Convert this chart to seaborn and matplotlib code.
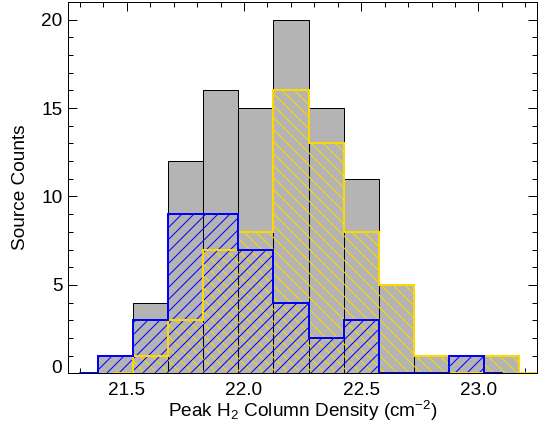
import numpy as np
import pandas as pd
import matplotlib
matplotlib.use("Agg")
import matplotlib.pyplot as plt
import matplotlib.transforms as mtransforms
from matplotlib.ticker import MultipleLocator
import seaborn as sns

# ---------------- data ----------------
bin_start = 21.375
bin_width = 0.15
total_counts = [1, 4, 12, 16, 15, 20, 15, 11, 5, 1, 1, 1]
yellow_counts = [0, 1, 3, 7, 8, 16, 13, 8, 5, 1, 0, 1]
blue_counts = [1, 3, 9, 9, 7, 4, 2, 3, 0, 0, 1, 0]
x_ticks = [21.5, 22.0, 22.5, 23.0]
x_ticklabels = ["21.5", "22.0", "22.5", "23.0"]
y_ticks = [0, 5, 10, 15, 20]
x_label = "Peak H$_2$ Column Density (cm$^{-2}$)"
y_label = "Source Counts"

GRAY = "#b4b4b4"
YELLOW = "#ffd700"
BLUE = "#0000ff"

sns.set_theme(style="ticks", rc={
    "axes.edgecolor": "black", "xtick.color": "black", "ytick.color": "black",
    "text.color": "black", "axes.labelcolor": "black", "axes.linewidth": 1.0,
})
plt.rcParams["font.family"] = ["Liberation Sans", "DejaVu Sans"]
plt.rcParams["mathtext.default"] = "regular"
plt.rcParams["hatch.linewidth"] = 1.0

W, H = 540, 428
fig = plt.figure(figsize=(W / 72, H / 72), dpi=72)
ax = fig.add_axes([68.3 / W, 1 - 373.3 / H, (537 - 68.3) / W, (373.3 - 2) / H])

edges = [float(e) for e in bin_start + bin_width * np.arange(len(total_counts) + 1)]
centers = np.array(edges[:-1]) + bin_width / 2
df = pd.DataFrame({"center": centers, "total": total_counts,
                   "yellow": yellow_counts, "blue": blue_counts})

# total histogram (gray bars with black edges)
sns.histplot(data=df, x="center", weights="total", bins=edges, ax=ax,
             element="bars", fill=True, facecolor=GRAY, edgecolor="black",
             linewidth=1.0, zorder=1)
# hatched sub-samples
sns.histplot(data=df, x="center", weights="yellow", bins=edges, ax=ax,
             element="bars", fill=True, facecolor="none", edgecolor=YELLOW,
             linewidth=0, hatch="\\\\", zorder=2)
sns.histplot(data=df, x="center", weights="blue", bins=edges, ax=ax,
             element="bars", fill=True, facecolor="none", edgecolor=BLUE,
             linewidth=0, hatch="//", zorder=3)

# step outlines (histogram drawn through bin centres, incl. empty end bins)
yl_x = np.append(centers, centers[-1] + bin_width)
yl_y = np.append(yellow_counts, 0)
bl_x = np.append(centers[0] - bin_width, centers)
bl_y = np.append(0, blue_counts)
sns.lineplot(x=yl_x, y=yl_y, ax=ax, color=YELLOW, linewidth=2,
             drawstyle="steps-mid", estimator=None, legend=False,
             zorder=4, clip_on=False, solid_joinstyle="miter")
sns.lineplot(x=bl_x, y=bl_y, ax=ax, color=BLUE, linewidth=2,
             drawstyle="steps-mid", estimator=None, legend=False,
             zorder=5, clip_on=False, solid_joinstyle="miter")

ax.set_xlim(21.25, 23.25)
ax.set_ylim(0, 21)
ax.set_xticks(x_ticks)
ax.set_xticklabels(x_ticklabels)
ax.set_yticks(y_ticks)
ax.xaxis.set_minor_locator(MultipleLocator(0.1))
ax.yaxis.set_minor_locator(MultipleLocator(1))
ax.tick_params(which="both", direction="in", top=True, right=True,
               width=1, labelsize=19)
ax.tick_params(which="major", length=9)
ax.tick_params(which="minor", length=5)
ax.tick_params(axis="x", which="major", pad=9)
ax.tick_params(axis="y", which="major", pad=6)
ax.set_xlabel(x_label, fontsize=19, labelpad=0)
ax.set_ylabel(y_label, fontsize=19, labelpad=12)
for sp in ax.spines.values():
    sp.set_zorder(6)

fig.canvas.draw()
for lbl in ax.get_yticklabels():
    if lbl.get_text() == "0":
        lbl.set_transform(lbl.get_transform() +
                          mtransforms.ScaledTranslation(0, 7 / 72, fig.dpi_scale_trans))

fig.savefig("out.png", dpi=72)
